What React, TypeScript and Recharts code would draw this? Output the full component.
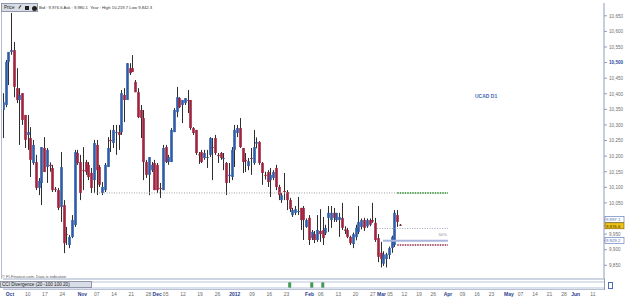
import { ComposedChart, Bar, XAxis, YAxis, ReferenceLine, ReferenceDot } from 'recharts'

// daily USDCAD bars (x10000), oldest first
const opens = [10348, 10364, 10502, 10534, 10540, 10418, 10380, 10402, 10332, 10268, 10258, 10178, 10181, 10098, 10114, 10226, 10165, 10172, 10162, 10095, 10091, 10037, 10043, 9950, 9915, 9941, 9979, 10210, 10181, 10155, 10181, 10172, 10146, 10123, 10236, 10165, 10082, 10091, 10165, 10252, 10242, 10274, 10277, 10277, 10396, 10380, 10482, 10482, 10438, 10405, 10348, 10322, 10181, 10140, 10155, 10178, 10172, 10098, 10091, 10229, 10181, 10181, 10277, 10341, 10386, 10364, 10370, 10380, 10380, 10290, 10284, 10206, 10213, 10194, 10194, 10204, 10229, 10258, 10204, 10210, 10194, 10178, 10136, 10133, 10220, 10274, 10290, 10226, 10188, 10168, 10194, 10178, 10240, 10245, 10178, 10140, 10149, 10123, 10130, 10162, 10101, 10059, 10088, 10085, 10059, 10011, 10018, 10021, 10034, 10034, 9973, 10002, 9937, 9950, 9931, 9960, 9963, 9953, 10002, 9995, 10018, 9995, 9995, 10002, 9965, 9963, 9941, 9918, 9940, 9957, 9973, 9995, 9975, 9995, 9995, 9986, 9937, 9890, 9855, 9870, 9883, 9905, 9915, 10011, 9980]
const highs = [10402, 10508, 10534, 10659, 10566, 10482, 10418, 10402, 10332, 10332, 10293, 10252, 10204, 10130, 10229, 10261, 10226, 10180, 10172, 10101, 10098, 10213, 10059, 9973, 9947, 10011, 10220, 10220, 10204, 10229, 10188, 10181, 10162, 10252, 10252, 10172, 10117, 10178, 10261, 10284, 10300, 10300, 10300, 10412, 10418, 10498, 10498, 10524, 10444, 10418, 10364, 10348, 10188, 10197, 10181, 10188, 10178, 10114, 10236, 10236, 10204, 10290, 10354, 10422, 10389, 10380, 10386, 10412, 10380, 10293, 10284, 10213, 10220, 10220, 10220, 10261, 10258, 10268, 10210, 10213, 10210, 10181, 10178, 10229, 10300, 10300, 10322, 10226, 10210, 10194, 10226, 10284, 10260, 10248, 10181, 10150, 10155, 10162, 10155, 10172, 10108, 10082, 10146, 10091, 10066, 10034, 10040, 10069, 10034, 10040, 10000, 10011, 9963, 9960, 10011, 10030, 10005, 9980, 10040, 10040, 10034, 10018, 10018, 10050, 9975, 9970, 9945, 9955, 9980, 10040, 10000, 10002, 10000, 10000, 10050, 10002, 9950, 9925, 9895, 9890, 9910, 9945, 10027, 10027, 9982]
const lows = [10258, 10357, 10428, 10525, 10389, 10370, 10236, 10300, 10226, 10220, 10133, 10172, 10091, 10075, 10043, 10149, 10114, 10150, 10085, 10085, 10027, 9989, 9889, 9915, 9905, 9937, 9973, 10172, 10059, 10091, 10140, 10123, 10082, 10082, 10075, 10101, 10075, 10085, 10165, 10213, 10226, 10204, 10220, 10268, 10309, 10380, 10460, 10470, 10405, 10322, 10258, 10123, 10130, 10075, 10149, 10091, 10082, 10066, 10091, 10178, 10172, 10181, 10277, 10325, 10354, 10306, 10364, 10338, 10284, 10268, 10204, 10175, 10178, 10188, 10162, 10197, 10123, 10204, 10178, 10188, 10155, 10075, 10114, 10123, 10165, 10261, 10226, 10146, 10149, 10155, 10140, 10172, 10225, 10172, 10108, 10125, 10101, 10069, 10123, 10091, 10059, 10050, 10059, 10027, 10021, 10005, 10011, 10011, 9963, 9931, 9970, 9915, 9931, 9921, 9925, 9925, 9915, 9947, 9957, 9970, 9989, 9989, 9941, 9963, 9950, 9937, 9915, 9905, 9930, 9950, 9965, 9960, 9970, 9975, 9986, 9925, 9860, 9843, 9848, 9843, 9870, 9890, 9909, 9973, 9976]
const closes = [10373, 10502, 10534, 10540, 10422, 10380, 10396, 10316, 10252, 10277, 10188, 10236, 10098, 10120, 10229, 10149, 10220, 10168, 10091, 10092, 10034, 10165, 9921, 9948, 9941, 9995, 10213, 10178, 10082, 10152, 10149, 10133, 10098, 10242, 10155, 10108, 10101, 10172, 10226, 10248, 10284, 10277, 10268, 10402, 10380, 10498, 10466, 10470, 10405, 10325, 10322, 10181, 10140, 10197, 10172, 10091, 10091, 10095, 10226, 10181, 10197, 10284, 10348, 10389, 10357, 10380, 10386, 10377, 10290, 10274, 10210, 10204, 10181, 10210, 10197, 10258, 10226, 10210, 10200, 10194, 10194, 10114, 10140, 10220, 10284, 10290, 10229, 10181, 10184, 10184, 10191, 10229, 10245, 10178, 10146, 10138, 10117, 10140, 10149, 10101, 10075, 10075, 10085, 10059, 10030, 10027, 10030, 10024, 9995, 9995, 9995, 9931, 9957, 9931, 9963, 9950, 9937, 9970, 10018, 10018, 10002, 10018, 10005, 9970, 9960, 9941, 9921, 9950, 9970, 9989, 9995, 9970, 9995, 9980, 9990, 9931, 9877, 9870, 9885, 9885, 9905, 9941, 10018, 9989, 9977]

const priceTicks = [10650, 10600, 10550, 10500, 10450, 10400, 10350, 10300, 10250, 10200, 10150, 10100, 10050, 9950, 9900, 9850]
const priceMarks = [9997.1, 9976.6, 9929.2]

const dateLabels = ['Oct', '10', '17', '24', 'Nov', '07', '14', '21', '28', 'Dec', '05', '12', '19', '26', '2012', '09', '16', '23', 'Feb', '06', '13', '20', '27', 'Mar', '05', '12', '19', '26', 'Apr', '09', '16', '23', 'May', '07', '14', '21', '28', 'Jun', '11']
const dateSlots = [2.5, 9, 15.2, 21.5, 28.8, 34, 40.3, 46.5, 52.8, 55.9, 59, 65.3, 71.5, 77.8, 84.1, 90.3, 96.6, 102.8, 111.2, 115.3, 121.6, 127.9, 134.1, 137.3, 140.4, 145.6, 150.9, 156.1, 161.4, 166.7, 171.9, 177.2, 183.5, 187.7, 193, 198.2, 203.5, 207.7, 214]
const monthLabels = ['Oct', 'Nov', 'Dec', '2012', 'Feb', 'Mar', 'Apr', 'May', 'Jun']

const levels = [
  { from: 33, to: 143, value: 10082, color: '#a0a0a0', width: 1, dash: '1 1.5' },
  { from: 143, to: 161.4, value: 10082, color: '#5aa05a', width: 2, dash: '1.5 1' },
  { from: 135.7, to: 161.4, value: 9968, color: '#9aa4b4', width: 1, dash: '1 1.5' },
  { from: 137.8, to: 161.4, value: 9929, color: '#a9b4dc', width: 2, dash: '' },
  { from: 143, to: 161.4, value: 9915, color: '#8a2a48', width: 1.5, dash: '1.5 1' },
]

const signalBars = [104, 112, 116]

const bars = opens.map((o, i) => ({ i, o, h: highs[i], l: lows[i], c: closes[i], range: [lows[i], highs[i]] }))
const signals = signalBars.map((i) => ({ i, v: 1 }))

const font = 'Arial, "Liberation Sans", sans-serif'

const Candle = (props: any) => {
  const { x, y, width, height, payload } = props
  if (x == null || y == null) return null
  const { o, h, l, c } = payload
  const cx = Math.round(x + width / 2) + 0.5
  const span = h - l || 1
  const py = (v: number) => y + ((h - v) / span) * height
  const top = py(Math.max(o, c))
  const bot = py(Math.min(o, c))
  const up = c >= o
  return (
    <g>
      <line x1={cx} x2={cx} y1={y} y2={y + height} stroke="#2e2e2e" strokeWidth={1} />
      <rect x={cx - 1.3} y={top} width={2.6} height={Math.max(1, bot - top)} fill={up ? '#2f5ca8' : '#a0233f'} />
    </g>
  )
}

const PriceTick = ({ x, y, payload }: any) => {
  const v = payload.value
  const mark = priceMarks.indexOf(v)
  if (mark >= 0) {
    const bid = mark === 1
    return (
      <g>
        <rect x={605} y={y - 3} width={19} height={6} fill={bid ? '#efc21a' : '#fff'} stroke={bid ? '#7a5a00' : '#4d6db5'} strokeWidth={0.6} />
        <text x={606} y={y + 1.8} fontSize={4.3} fontFamily={font} fill={bid ? '#3a2a00' : '#4d6db5'}>
          {v.toLocaleString('en-US', { minimumFractionDigits: 1 })}
        </text>
      </g>
    )
  }
  const hot = v === 10500
  return (
    <text x={x} y={y + 1.8} fontSize={4.6} fontFamily={font} fontWeight={hot ? 700 : 400} fill={hot ? '#2a4d9c' : '#6f6f6f'}>
      {v.toLocaleString('en-US')}
    </text>
  )
}

const DateTick = ({ x, y, payload }: any) => {
  const label = dateLabels[dateSlots.indexOf(payload.value)]
  const month = monthLabels.includes(label)
  return (
    <text x={x} y={y + 17} textAnchor="middle" fontSize={5} fontFamily={font} fontWeight={month ? 700 : 400} fill={month ? '#1f3c8c' : '#6b6b6b'}>
      {label}
    </text>
  )
}

export default function App() {
  return (
    <div style={{ position: 'absolute', left: 0, top: 0, width: 625, height: 298, background: '#fff', overflow: 'hidden', fontFamily: font }}>
      <ComposedChart width={625} height={298} data={bars} margin={{ top: 3, right: 0, bottom: 0, left: 3 }}>
        <XAxis dataKey="i" type="number" domain={[0, 218]} allowDataOverflow ticks={dateSlots} interval={0} tick={<DateTick />} tickLine={false} tickSize={0} tickMargin={0} height={19} axisLine={{ stroke: '#9eabc8' }} />
        <YAxis orientation="right" type="number" domain={[9806, 10691]} allowDataOverflow ticks={[...priceTicks, ...priceMarks]} interval={0} tick={<PriceTick />} tickSize={3} tickMargin={2} tickLine={{ stroke: '#8e9cbc' }} axisLine={{ stroke: '#8e9cbc' }} width={21} />
        {levels.map((lv, k) => (
          <ReferenceLine key={k} segment={[{ x: lv.from, y: lv.value }, { x: lv.to, y: lv.value }]} stroke={lv.color} strokeWidth={lv.width} strokeDasharray={lv.dash} />
        ))}
        <ReferenceDot x={159.5} y={9929} r={0} stroke="none" label={{ value: '50%', position: 'top', fontSize: 4.2, fill: '#8a8a9a', fontFamily: font }} />
        <Bar dataKey="range" barSize={3} shape={<Candle />} isAnimationActive={false} />
      </ComposedChart>

      <div style={{ position: 'absolute', left: 0, top: 280, width: 625, height: 10 }}>
        <ComposedChart width={625} height={10} data={signals} margin={{ top: 2, right: 21, bottom: 2, left: 3 }}>
          <XAxis dataKey="i" type="number" domain={[0, 218]} hide />
          <YAxis type="number" domain={[0, 1]} hide />
          <ReferenceLine y={0} stroke="#b9c4da" />
          <ReferenceLine y={1} stroke="#b9c4da" />
          <Bar dataKey="v" barSize={3} fill="#3f9a52" isAnimationActive={false} />
        </ComposedChart>
      </div>
      <div style={{ position: 'absolute', left: 604, top: 279, width: 1, height: 11, background: '#8e9cbc' }} />
      <div style={{ position: 'absolute', left: 3, top: 289, width: 601, height: 1, background: '#b9c4da' }} />
      <div style={{ position: 'absolute', left: 608, top: 282, width: 3, height: 5, border: '0.6px solid #4d6db5' }} />

      <div style={{ position: 'absolute', left: 0, top: 281, width: 92, height: 7, background: '#d9dde5', border: '0.6px solid #8f97a8', boxSizing: 'border-box', fontSize: 4.6, lineHeight: '6px', color: '#222', paddingLeft: 1, whiteSpace: 'nowrap' }}>
        CCI Divergence (20 -100 100 20)
      </div>

      <div style={{ position: 'absolute', left: 1, top: 3, width: 1, height: 276, background: '#b4bccb' }} />
      <div style={{ position: 'absolute', left: 1, top: 3, width: 37, height: 9, background: '#d9dde5', border: '0.6px solid #8f97a8', boxSizing: 'border-box' }}>
        <span style={{ position: 'absolute', left: 2, top: 1, fontSize: 4.6, lineHeight: '6px', color: '#222' }}>Price</span>
        <span style={{ position: 'absolute', left: 17, top: 2, width: 4, height: 4, borderLeft: '1px solid #333', transform: 'rotate(35deg)' }} />
        <span style={{ position: 'absolute', left: 23, top: 2, width: 4, height: 4, background: '#222' }} />
        <span style={{ position: 'absolute', left: 30, top: 1.5, width: 5, height: 5, borderRadius: 3, background: '#222' }} />
      </div>
      <div style={{ position: 'absolute', left: 39, top: 5, fontSize: 4.2, lineHeight: '5px', color: '#333', whiteSpace: 'pre' }}>
        Bid : 9,976.6 Ask : 9,980.1  Year : High 10,219.7 Low 9,842.3
      </div>
      <div style={{ position: 'absolute', left: 475, top: 93, fontSize: 5, fontWeight: 700, color: '#3f6bb5', whiteSpace: 'nowrap' }}>
        UCAD D1
      </div>
      <div style={{ position: 'absolute', left: 2, top: 274, fontSize: 4, lineHeight: '5px', color: '#555', whiteSpace: 'nowrap' }}>
        © FI-Finance.com. Data is indicative
      </div>
    </div>
  )
}
